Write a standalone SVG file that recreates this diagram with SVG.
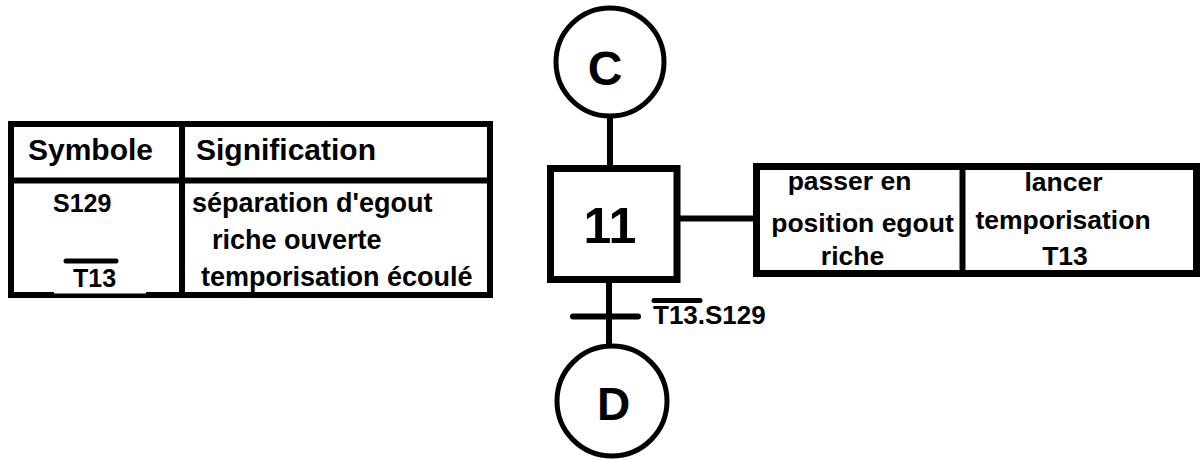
<svg xmlns="http://www.w3.org/2000/svg" width="1201" height="461" viewBox="0 0 1201 461">
  <style>
    .frame { fill: #ffffff; stroke: #000000; stroke-width: 6; }
    .rule { stroke: #000000; stroke-width: 6; fill: none; }
    .bar { stroke: #000000; stroke-width: 6; stroke-linecap: round; fill: none; }
    .ring { fill: #ffffff; stroke: #000000; stroke-width: 5; }
    text { font-family: "Liberation Sans", Arial, sans-serif; font-weight: bold; fill: #000000; }
    .head { font-size: 30px; }
    .body { font-size: 27px; }
    .act { font-size: 26.5px; }
  </style>

  <!-- legend table: symbols and their meaning -->
  <g id="legend">
    <rect class="frame" x="11" y="124" width="479" height="171"/>
    <line class="rule" x1="11" y1="180.5" x2="490" y2="180.5"/>
    <line class="rule" x1="182" y1="124" x2="182" y2="295"/>
    <line x1="54" y1="292.5" x2="146" y2="292.5" stroke="#ffffff" stroke-width="2"/>
    <text class="head" x="28" y="160">Symbole</text>
    <text class="head" x="196" y="160">Signification</text>
    <text x="53" y="212" font-size="25">S129</text>
    <text class="body" x="192" y="212">séparation d'egout</text>
    <text class="body" x="212" y="249">riche ouverte</text>
    <text x="73" y="287" font-size="25">T13</text>
    <line x1="66" y1="261" x2="116" y2="261" stroke="#000000" stroke-width="5" stroke-linecap="round"/>
    <text class="body" x="201" y="286">temporisation écoulé</text>
  </g>

  <!-- links between steps, transition and actions -->
  <g id="connectors">
    <line class="rule" x1="610" y1="117" x2="610" y2="166"/>
    <line class="rule" x1="609" y1="282" x2="609" y2="347"/>
    <line class="rule" x1="679" y1="218.5" x2="758" y2="218.5"/>
    <line class="bar" x1="573" y1="316.5" x2="638" y2="316.5"/>
    <text x="653" y="324" font-size="26">T13.S129</text>
    <line x1="654" y1="300.5" x2="700" y2="300.5" stroke="#000000" stroke-width="5" stroke-linecap="round"/>
  </g>

  <!-- connector C -->
  <g id="ref-C">
    <circle class="ring" cx="610" cy="62" r="54"/>
    <text x="605" y="85" font-size="48" text-anchor="middle">C</text>
  </g>

  <!-- step 11 -->
  <g id="step-11">
    <rect x="550.5" y="168.5" width="126.5" height="111" fill="#ffffff" stroke="#000000" stroke-width="7"/>
    <text x="610" y="243" font-size="50" text-anchor="middle">11</text>
  </g>

  <!-- actions of step 11 -->
  <g id="actions-11">
    <rect x="756.5" y="166.5" width="440" height="107" fill="#ffffff" stroke="#000000" stroke-width="7"/>
    <line x1="962.5" y1="166.5" x2="962.5" y2="275" stroke="#000000" stroke-width="6"/>
    <text class="act" x="849.5" y="190" text-anchor="middle">passer en</text>
    <text class="act" x="862.5" y="232" text-anchor="middle">position egout</text>
    <text class="act" x="852.5" y="265" text-anchor="middle">riche</text>
    <text class="act" x="1063.5" y="191" text-anchor="middle">lancer</text>
    <text class="act" x="1063" y="229" text-anchor="middle">temporisation</text>
    <text class="act" x="1065" y="265" text-anchor="middle">T13</text>
  </g>

  <!-- connector D -->
  <g id="ref-D">
    <circle class="ring" cx="612" cy="401" r="55"/>
    <text x="613.5" y="420" font-size="46" text-anchor="middle">D</text>
  </g>
</svg>
